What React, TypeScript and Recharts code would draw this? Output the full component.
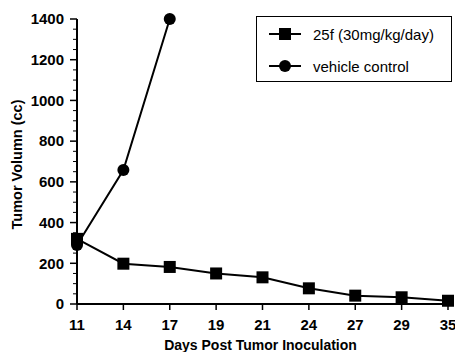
import { Legend, Line, LineChart, XAxis, YAxis } from 'recharts';

const days = ['11', '14', '17', '19', '21', '24', '27', '29', '35'];
const drugVolume = [320, 198, 182, 150, 131, 77, 41, 33, 16];
const vehicleVolume = [290, 658, 1400, null, null, null, null, null, null];
const yTicks = Array.from({ length: 29 }, (_, i) => i * 50);

const DRUG = '25f (30mg/kg/day)';
const VEHICLE = 'vehicle control';

const data = days.map((day, i) => ({ day, drug: drugVolume[i], vehicle: vehicleVolume[i] }));

const FONT = '"Liberation Sans", Arial, Helvetica, sans-serif';
const Y_TICK_SIZE = 7;
const Y_TICK_MARGIN = 6;

function SquareDot(props: any) {
  const { cx, cy, index } = props;
  if (cx == null || cy == null) return <g key={`s-${index}`} />;
  return <rect key={`s-${index}`} x={cx - 6} y={cy - 6} width={12} height={12} fill="#000" />;
}

function CircleDot(props: any) {
  const { cx, cy, index, value } = props;
  if (cx == null || cy == null || value == null) return <g key={`c-${index}`} />;
  return <circle key={`c-${index}`} cx={cx} cy={cy} r={6} fill="#000" />;
}

// major ticks every 200 with labels, minor ticks every 50
function YTick(props: any) {
  const { x, y, payload } = props;
  const axisX = x + Y_TICK_SIZE + Y_TICK_MARGIN;
  const major = payload.value % 200 === 0;
  return (
    <g>
      <line x1={axisX - (major ? Y_TICK_SIZE : 4)} y1={y} x2={axisX} y2={y} stroke="#000" strokeWidth={major ? 1.5 : 1} />
      {major && (
        <text x={x} y={y} dy="0.355em" textAnchor="end" fill="#000" fontSize={15} fontWeight={700} fontFamily={FONT}>
          {payload.value}
        </text>
      )}
    </g>
  );
}

function LegendBox() {
  const row = (label: string, square: boolean) => (
    <div style={{ display: 'flex', alignItems: 'center', height: 32 }}>
      <svg width={44} height={14} style={{ marginLeft: 12 }}>
        <line x1={0} y1={7} x2={32} y2={7} stroke="#000" strokeWidth={2} />
        {square ? <rect x={10} y={1} width={12} height={12} fill="#000" /> : <circle cx={16} cy={7} r={6} fill="#000" />}
      </svg>
      <span style={{ fontFamily: FONT, fontSize: 15, color: '#000' }}>{label}</span>
    </div>
  );
  return (
    <div style={{ border: '1.5px solid #000', width: 196, height: 66, boxSizing: 'border-box', background: '#fff', paddingTop: 1 }}>
      {row(DRUG, true)}
      {row(VEHICLE, false)}
    </div>
  );
}

export default function App() {
  return (
    <div style={{ width: 455, height: 352, background: '#fff' }}>
      <style>{'body{margin:0}'}</style>
      <LineChart width={455} height={352} data={data} margin={{ top: 19, right: 7, bottom: 0, left: 0 }}>
        <XAxis
          dataKey="day"
          height={48}
          axisLine={{ stroke: '#000', strokeWidth: 2 }}
          tickLine={{ stroke: '#000', strokeWidth: 1.5 }}
          tickSize={6}
          tickMargin={9}
          interval={0}
          tick={{ fill: '#000', fontSize: 15, fontWeight: 700, fontFamily: FONT }}
          label={(p: any) => {
            const vb = p.viewBox;
            return (
              <text x={vb.x + vb.width / 2 - 2} y={346} textAnchor="middle" dominantBaseline="middle" fill="#000" fontSize={14} fontWeight={700} fontFamily={FONT}>
                Days Post Tumor Inoculation
              </text>
            );
          }}
        />
        <YAxis
          type="number"
          domain={[0, 1400]}
          width={77}
          ticks={yTicks}
          interval={0}
          axisLine={{ stroke: '#000', strokeWidth: 2 }}
          tickLine={false}
          tickSize={Y_TICK_SIZE}
          tickMargin={Y_TICK_MARGIN}
          tick={YTick}
          label={(p: any) => {
            const vb = p.viewBox;
            const cy = vb.y + vb.height / 2 + 3;
            return (
              <text x={18} y={cy} transform={`rotate(-90, 18, ${cy})`} textAnchor="middle" dominantBaseline="middle" fill="#000" fontSize={14.5} fontWeight={700} fontFamily={FONT}>
                Tumor Volumn (cc)
              </text>
            );
          }}
        />
        <Legend
          layout="vertical"
          align="center"
          verticalAlign="middle"
          wrapperStyle={{ position: 'absolute', top: 16, left: 256, width: 196 }}
          content={() => <LegendBox />}
        />
        <Line
          dataKey="drug"
          name={DRUG}
          stroke="#000"
          strokeWidth={2}
          dot={SquareDot}
          activeDot={false}
          isAnimationActive={false}
        />
        <Line
          dataKey="vehicle"
          name={VEHICLE}
          stroke="#000"
          strokeWidth={2}
          dot={CircleDot}
          activeDot={false}
          isAnimationActive={false}
        />
      </LineChart>
    </div>
  );
}
